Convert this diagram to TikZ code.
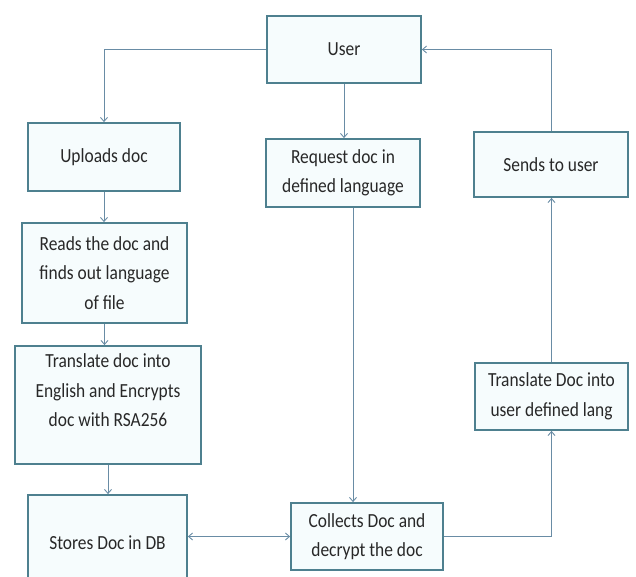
\documentclass[tikz,border=0pt]{standalone}
\usepackage{fontspec}
\setmainfont{Carlito}[FakeStretch=0.87]
\usetikzlibrary{arrows.meta}
\definecolor{boxedge}{RGB}{78,128,143}
\definecolor{boxfill}{RGB}{246,252,253}
\definecolor{linkcol}{RGB}{105,140,165}
\definecolor{txtcol}{RGB}{40,40,40}

\begin{document}
\begin{tikzpicture}[x=1pt, y=-1pt,
    box/.style={draw=boxedge, fill=boxfill, line width=1.8pt, inner sep=0pt,
        align=center, text=txtcol, font=\fontsize{20}{29.5}\selectfont},
    link/.style={draw=linkcol, line width=0.9pt, -{Straight Barb[length=4pt,width=7pt]}}]
    \useasboundingbox (0,0) rectangle (636,577);
    % boxes
    \node[box, minimum width=154pt, minimum height=67pt] (user) at (344,49.5) {User};
    \node[box, minimum width=152pt, minimum height=68pt] (uploads) at (104,157) {Uploads doc};
    \node[box, minimum width=154pt, minimum height=68pt] (request) at (343,173) {Request doc in\\defined language};
    \node[box, minimum width=154pt, minimum height=65pt] (sends) at (551,164.5) {Sends to user};
    \node[box, minimum width=165pt, minimum height=100pt] (reads) at (104.5,273) {Reads the doc and\\finds out language\\of file};
    \node[box, minimum width=186pt, minimum height=118pt] (translate) at (108,405) {Translate doc into\\English and Encrypts\\doc with RSA256\\~};
    \node[box, minimum width=159pt, minimum height=95pt] (stores) at (107.5,542.5) {Stores Doc in DB};
    \node[box, minimum width=152pt, minimum height=67pt] (collects) at (367,536.5) {Collects Doc and\\decrypt the doc};
    \node[box, minimum width=153pt, minimum height=67pt] (translang) at (551.5,396.5) {Translate Doc into\\user defined lang};
    % connectors
    \draw[link] (user.west) -| (uploads.north);
    \draw[link] (user.south) -- (user.south |- request.north);
    \draw[link] (uploads.south) -- (uploads.south |- reads.north);
    \draw[link] (reads.south) -- (reads.south |- translate.north);
    \draw[link] (translate.south) -- (translate.south |- stores.north);
    \draw[link] ([xshift=10pt]request.south) -- ([xshift=10pt]request.south |- collects.north);
    \draw[link, {Straight Barb[length=4pt,width=7pt]}-{Straight Barb[length=4pt,width=7pt]}]
        (stores.east |- collects.west) -- (collects.west);
    \draw[link] (collects.east) -| (translang.south);
    \draw[link] (translang.north) -- (translang.north |- sends.south);
    \draw[link] (sends.north) |- (user.east);
\end{tikzpicture}
\end{document}
